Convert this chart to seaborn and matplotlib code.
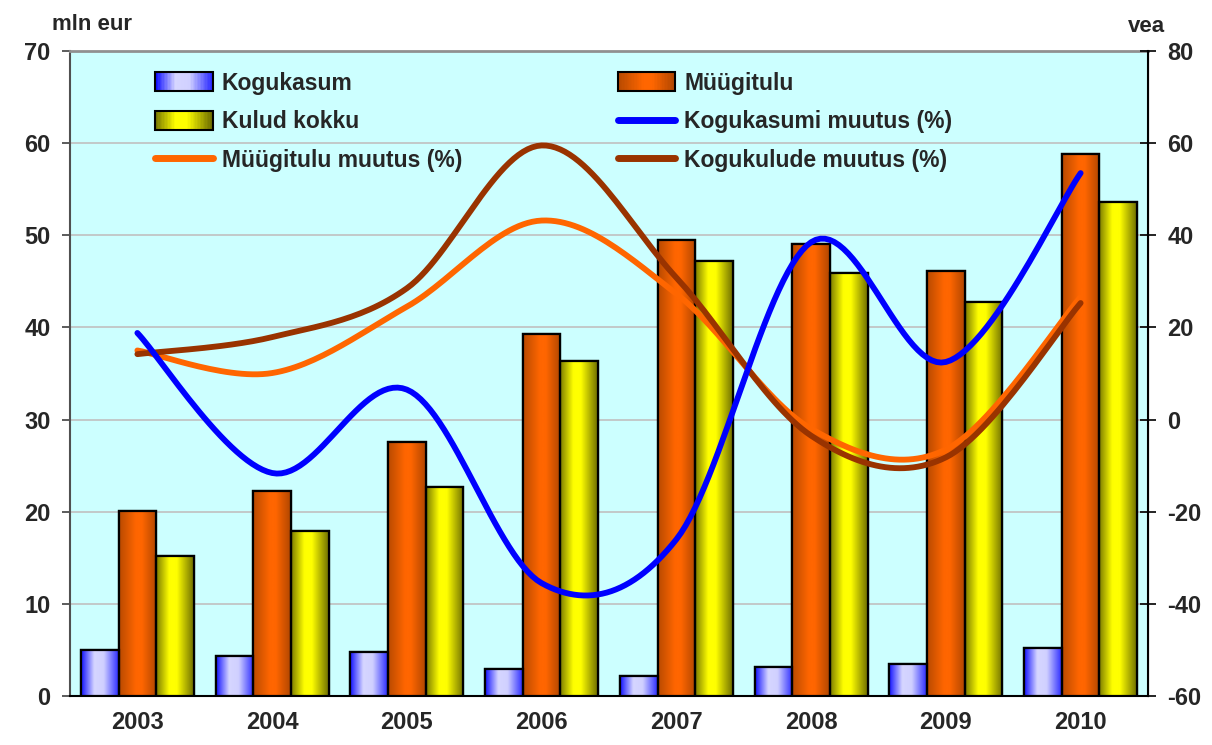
import numpy as np
import pandas as pd
import matplotlib
matplotlib.use("Agg")
import matplotlib.pyplot as plt
import seaborn as sns
from matplotlib.colors import LinearSegmentedColormap
from matplotlib.patches import Rectangle
from matplotlib.lines import Line2D
from matplotlib.legend_handler import HandlerBase

# andmed
aastad = ["2003", "2004", "2005", "2006", "2007", "2008", "2009", "2010"]
kogukasum = [5.0, 4.3, 4.8, 2.9, 2.2, 3.1, 3.5, 5.2]
myygitulu = [20.1, 22.3, 27.6, 39.3, 49.5, 49.1, 46.1, 58.8]
kulud_kokku = [15.2, 17.9, 22.7, 36.4, 47.2, 45.9, 42.8, 53.6]

kogukasumi_muutus = [18.8, -11.6, 6.5, -35.5, -26.0, 38.5, 12.5, 53.5]
myygitulu_muutus = [15.0, 10.1, 24.5, 43.2, 27.3, -2.0, -6.5, 26.6]
kogukulude_muutus = [14.2, 17.9, 28.5, 59.5, 30.8, -3.5, -8.2, 25.3]

seeriad = ["Kogukasum", "Müügitulu", "Kulud kokku"]
gradiendid = {
    "Kogukasum": [(0.0, "#1010ff"), (0.35, "#d6d6ff"), (0.6, "#d0d0ff"), (1.0, "#2a2aff")],
    "Müügitulu": [(0.0, "#b84a00"), (0.45, "#ff6600"), (0.6, "#ff6600"), (1.0, "#b04600")],
    "Kulud kokku": [(0.0, "#7a7a00"), (0.35, "#ffff00"), (0.55, "#ffff00"), (1.0, "#6e6e00")],
}
cmaps = {k: LinearSegmentedColormap.from_list(k, v) for k, v in gradiendid.items()}

df = pd.DataFrame({
    "aasta": aastad * 3,
    "seeria": np.repeat(seeriad, len(aastad)),
    "vaartus": kogukasum + myygitulu + kulud_kokku,
})

sns.set_style("white")
plt.rcParams["font.family"] = ["Liberation Sans", "DejaVu Sans"]
plt.rcParams["font.weight"] = "bold"
plt.rcParams["axes.unicode_minus"] = False

fig = plt.figure(figsize=(12.12, 7.45), dpi=100)
ax = fig.add_axes([70 / 1212, 1 - 696 / 745, 1078 / 1212, 645 / 745])
ax.set_facecolor("#ccffff")

sns.barplot(data=df, x="aasta", y="vaartus", hue="seeria", hue_order=seeriad,
            order=aastad, width=0.84, ax=ax, legend=False,
            palette=["#d6d6ff", "#ff6600", "#ffff00"],
            edgecolor="black", linewidth=1.6, saturation=1, zorder=3)

# gradient ribadele
grad = np.linspace(0, 1, 256).reshape(1, -1)
for i, bar in enumerate(ax.patches):
    nimi = seeriad[i // len(aastad)]
    x0, y0 = bar.get_x(), bar.get_y()
    w, h = bar.get_width(), bar.get_height()
    ax.imshow(grad, extent=[x0, x0 + w, y0, y0 + h], aspect="auto",
              cmap=cmaps[nimi], zorder=3.5, interpolation="bicubic")
    ax.add_patch(Rectangle((x0, y0), w, h, fill=False, edgecolor="black",
                           linewidth=1.6, zorder=4))

ax.set_xlim(-0.5, 7.5)
ax.set_ylim(0, 70)
ax.set_yticks(range(0, 71, 10))
ax.yaxis.grid(True, color="#c0c0c0", linewidth=1.2, zorder=0)
ax.set_axisbelow(True)
ax.set_xlabel("")
ax.set_ylabel("")
ax.set_xticks(range(len(aastad)))
ax.set_xticklabels(aastad)
ax.set_xticks(np.arange(-0.5, 8, 1), minor=True)
ax.tick_params(axis="x", which="major", length=0, pad=11, labelsize=17)
ax.tick_params(axis="x", which="minor", length=6, width=1.2, direction="out", color="#404040")
ax.tick_params(axis="y", length=6, width=1.2, direction="out", color="#404040", pad=8, labelsize=17)
for s in ["top", "left", "right", "bottom"]:
    ax.spines[s].set_visible(True)
ax.spines["top"].set_color("#909090")
ax.spines["top"].set_linewidth(2)
ax.spines["left"].set_color("#505050")
ax.spines["left"].set_linewidth(1.5)
ax.spines["bottom"].set_color("black")
ax.spines["bottom"].set_linewidth(1.5)


def sujuv(x, y, n=30):
    # Excel-laadne sujuv joon (Bezier kontrollpunktidega)
    p = np.column_stack([x, y]).astype(float)
    pp = np.vstack([p[0], p, p[-1]])
    xs, ys = [], []
    t = np.linspace(0, 1, n)[:, None]
    for i in range(len(p) - 1):
        a, b = pp[i + 1], pp[i + 2]
        c1 = a + (pp[i + 2] - pp[i]) / 6
        c2 = b - (pp[i + 3] - pp[i + 1]) / 6
        seg = (1 - t) ** 3 * a + 3 * (1 - t) ** 2 * t * c1 + 3 * (1 - t) * t ** 2 * c2 + t ** 3 * b
        xs.append(seg[:, 0])
        ys.append(seg[:, 1])
    return np.concatenate(xs), np.concatenate(ys)


ax2 = ax.twinx()
ax2.set_ylim(-60, 80)
ax2.set_yticks(range(-60, 81, 20))
xpos = np.arange(len(aastad))
joone_lw = 4.2
for vals, col in [(myygitulu_muutus, "#ff6600"),
                  (kogukulude_muutus, "#993300"),
                  (kogukasumi_muutus, "#0000ff")]:
    sx, sy = sujuv(xpos, vals)
    ax2.plot(sx, sy, color=col, linewidth=joone_lw, solid_capstyle="round", zorder=5)
ax2.set_xlim(-0.5, 7.5)
ax2.tick_params(axis="y", length=12, width=1.2, direction="inout", color="black", pad=8, labelsize=17)
ax2.spines["right"].set_color("black")
ax2.spines["right"].set_linewidth(1.5)
for s in ["top", "left", "bottom"]:
    ax2.spines[s].set_visible(False)

fig.text(52 / 1212, 1 - 24 / 745, "mln eur", ha="left", va="center", fontsize=16, fontweight="bold")
fig.text(1146 / 1212, 1 - 26 / 745, "vea", ha="center", va="center", fontsize=16, fontweight="bold")


class GradientHandler(HandlerBase):
    def __init__(self, cmap):
        super().__init__()
        self.cmap = cmap

    def create_artists(self, legend, orig_handle, xdescent, ydescent, width, height, fontsize, trans):
        artists = []
        n = 40
        for k in range(n):
            r = Rectangle((-xdescent + width * k / n, -ydescent), width / n + 0.3, height,
                          facecolor=self.cmap(k / (n - 1)), edgecolor="none", transform=trans)
            artists.append(r)
        artists.append(Rectangle((-xdescent, -ydescent), width, height, fill=False,
                                 edgecolor="black", linewidth=1.5, transform=trans))
        return artists


h_kasum = Rectangle((0, 0), 1, 1, label="Kogukasum")
h_myyk = Rectangle((0, 0), 1, 1, label="Müügitulu")
h_kulud = Rectangle((0, 0), 1, 1, label="Kulud kokku")
h_l1 = Line2D([], [], color="#0000ff", linewidth=5, solid_capstyle="round")
h_l2 = Line2D([], [], color="#ff6600", linewidth=5, solid_capstyle="round")
h_l3 = Line2D([], [], color="#993300", linewidth=5, solid_capstyle="round")

handles = [h_kasum, h_kulud, h_l2, h_myyk, h_l1, h_l3]
labels = ["Kogukasum", "Kulud kokku", "Müügitulu muutus (%)",
          "Müügitulu", "Kogukasumi muutus (%)", "Kogukulude muutus (%)"]
ax2.legend(handles, labels, ncol=2, loc="upper left",
           bbox_to_anchor=(0.06, 1.0), frameon=False,
           prop={"size": 16.5, "weight": "bold"},
           handlelength=2.5, handleheight=0.9, handletextpad=0.4,
           columnspacing=6.8, labelspacing=0.68,
           handler_map={h_kasum: GradientHandler(cmaps["Kogukasum"]),
                        h_myyk: GradientHandler(cmaps["Müügitulu"]),
                        h_kulud: GradientHandler(cmaps["Kulud kokku"])})

fig.savefig("out.png", dpi=100)
